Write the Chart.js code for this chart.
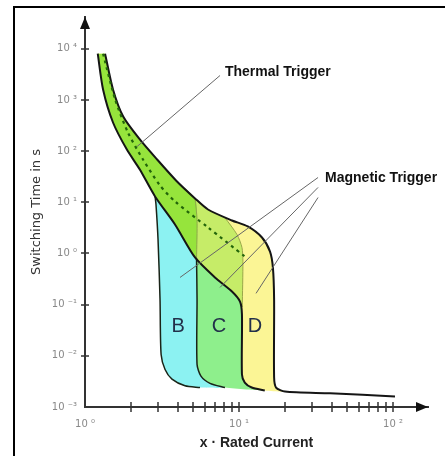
<!DOCTYPE html>
<html>
<head>
<meta charset="utf-8">
<script src="https://cdn.jsdelivr.net/npm/chart.js@4.4.0/dist/chart.umd.min.js"></script>
<style>
  html, body { margin: 0; padding: 0; background: #fff; }
  #wrap { width: 445px; height: 456px; }
</style>
</head>
<body>
<div id="wrap"><canvas id="chart"></canvas></div>
<script>
// all points are [multiple of rated current, switching time in s]

// thermal trigger band, outer (slow) edge, running on into the D region
const thermalUpper = [
  [1.35, 8000], [1.52, 1600], [1.77, 474], [2.27, 169], [2.94, 68.5], [3.9, 26.7],
  [5.18, 11.9], [6.29, 7.23], [9.0, 4.41], [11.4, 3.37], [14.1, 2.05], [15.9, 1.09],
  [16.6, 0.53], [16.9, 0.126], [16.9, 0.0038], [17.4, 0.0024], [19.9, 0.002],
];
const bottomTail = [[39, 0.00185], [103, 0.00161]];

// thermal trigger band, inner (fast) edge, dropping down at 10 x In
const thermalLower = [
  [1.21, 8000], [1.31, 1600], [1.52, 362], [1.87, 107], [2.27, 43.7], [2.85, 13.0],
  [3.84, 3.69], [5.18, 0.835], [6.98, 0.34], [9.0, 0.181], [10.15, 0.115], [10.45, 0.0645],
  [10.45, 0.0043], [10.9, 0.003], [12.1, 0.0024], [14.7, 0.0021],
];

// dashed middle of the thermal band
const thermalMid = [
  [1.31, 8000], [1.57, 1018], [1.9, 231], [2.38, 68.6], [3.07, 21.3], [3.84, 10.4],
  [6.29, 3.22], [10.9, 0.874],
];

// magnetic trigger edges
const bLeftEdge = [
  [2.85, 13.0], [2.89, 9.06], [2.98, 1.88], [3.07, 0.126], [3.12, 0.0106], [3.31, 0.0054],
  [3.67, 0.0035], [4.46, 0.0026], [5.58, 0.0024],
];
const cLeftEdge = [
  [5.3, 0.8], [5.34, 0.126], [5.34, 0.0068], [5.66, 0.004], [6.48, 0.0029], [8.11, 0.0024],
];
const cBandEdge = [[5.18, 11.9], [5.34, 4.6], [5.3, 0.8]];
const dBandEdge = [[8.1, 5.0], [9.7, 2.35], [10.45, 1.31], [10.6, 0.7], [10.5, 0.09]];

// axes
const xTicks = [1, 2, 3, 4, 5, 6, 7, 8, 9, 10, 20, 30, 40, 50, 60, 70, 80, 90, 100];
const xTickLabels = ['10 \u2070', '', '', '', '', '', '', '', '', '10 \u00b9', '', '', '', '', '', '', '', '', '10 \u00b2'];
const yTicks = [0.001, 0.01, 0.1, 1, 10, 100, 1000, 10000];
const yTickLabels = ['10 \u207b\u00b3', '10 \u207b\u00b2', '10 \u207b\u00b9', '10 \u2070', '10 \u00b9', '10 \u00b2', '10 \u00b3', '10 \u2074'];

// annotations
const thermalLabel = { text: 'Thermal Trigger', at: [8.1, 3430] };
const thermalLeader = [[7.53, 3000], [2.18, 123]];
const magneticLabel = { text: 'Magnetic Trigger', at: [36.2, 29.2] };
const magneticLeaders = [
  [[32.6, 30.5], [4.14, 0.34]],
  [[32.6, 19.5], [7.53, 0.217]],
  [[32.6, 12.4], [12.9, 0.166]],
];
const typeLetters = ['B', 'C', 'D'];
const typeLetterAt = [[4.02, 0.041], [7.41, 0.041], [12.7, 0.041]];

const pts = (arr) => arr.map(([x, y]) => ({ x, y }));
const rev = (arr) => arr.slice().reverse();

const yellowPoly = thermalUpper.concat(rev(thermalLower));
const bandLeftPoly = thermalUpper.slice(0, 7).concat(cBandEdge.slice(1), rev(thermalLower.slice(0, 8)));
const bandMidPoly = thermalUpper.slice(6, 8).concat(dBandEdge, rev(thermalLower.slice(7, 11)), [cBandEdge[1]]);
const bPoly = thermalLower.slice(5, 8).concat(cLeftEdge, rev(bLeftEdge));
const cPoly = thermalLower.slice(7).concat(rev(cLeftEdge));

const fillSet = (label, data, color, order) => ({
  label, data: pts(data), backgroundColor: color, borderWidth: 0, fill: 'shape', order,
  tension: 0.25, pointRadius: 0,
});
const lineSet = (label, data, color, width, order, dash) => ({
  label, data: pts(data), borderColor: color, borderWidth: width, fill: false, order,
  tension: 0.25, pointRadius: 0, borderDash: dash || [],
});

const line = (ctx, x1, y1, x2, y2) => {
  ctx.beginPath();
  ctx.moveTo(x1, y1);
  ctx.lineTo(x2, y2);
  ctx.stroke();
};

const decor = {
  id: 'decor',
  afterDatasetsDraw(chart) {
    const { ctx, chartArea: a, scales: { x, y } } = chart;
    const px = (p) => [x.getPixelForValue(p[0]), y.getPixelForValue(p[1])];
    ctx.save();

    // tick marks crossing the axes
    ctx.strokeStyle = '#333';
    ctx.lineWidth = 1.5;
    xTicks.slice(1).forEach((v) => {
      const xp = Math.round(x.getPixelForValue(v));
      line(ctx, xp, a.bottom - 5, xp, a.bottom + 5);
    });
    yTicks.slice(1).forEach((v) => {
      const yp = Math.round(y.getPixelForValue(v));
      line(ctx, a.left - 4, yp, a.left + 4, yp);
    });

    // arrowheads
    ctx.fillStyle = '#111';
    ctx.beginPath();
    ctx.moveTo(a.left, a.top);
    ctx.lineTo(a.left - 5, a.top + 12);
    ctx.lineTo(a.left + 5, a.top + 12);
    ctx.closePath();
    ctx.fill();
    ctx.beginPath();
    ctx.moveTo(a.right, a.bottom);
    ctx.lineTo(a.right - 12, a.bottom - 5);
    ctx.lineTo(a.right - 12, a.bottom + 5);
    ctx.closePath();
    ctx.fill();

    // leader lines
    ctx.strokeStyle = '#666';
    ctx.lineWidth = 1;
    [thermalLeader].concat(magneticLeaders).forEach(([p1, p2]) => {
      const [x1, y1] = px(p1);
      const [x2, y2] = px(p2);
      line(ctx, x1, y1, x2, y2);
    });

    // labels
    ctx.fillStyle = '#111';
    ctx.textBaseline = 'middle';
    ctx.textAlign = 'left';
    ctx.font = 'bold 14px "Liberation Sans", Arial, sans-serif';
    [thermalLabel, magneticLabel].forEach((l) => {
      const [lx, ly] = px(l.at);
      ctx.fillText(l.text, lx, ly);
    });
    ctx.fillStyle = '#22304a';
    ctx.textAlign = 'center';
    ctx.font = '20px "Liberation Sans", Arial, sans-serif';
    typeLetters.forEach((t, i) => {
      const [lx, ly] = px(typeLetterAt[i]);
      ctx.fillText(t, lx, ly + 2);
    });

    // frame
    ctx.strokeStyle = '#000';
    ctx.lineWidth = 2;
    ctx.strokeRect(14, 7, 480, 480);
    ctx.restore();
  },
};

new Chart(document.getElementById('chart'), {
  type: 'line',
  data: {
    datasets: [
      lineSet('dashed', thermalMid, '#23650a', 2.2, 1, [3, 4]),
      lineSet('upper', thermalUpper.concat(bottomTail), '#151515', 2, 2),
      lineSet('lower', thermalLower, '#151515', 2, 2),
      lineSet('bLeft', bLeftEdge, '#1a2418', 1.5, 3),
      lineSet('cLeft', cLeftEdge, '#1a2418', 1.5, 3),
      lineSet('cBand', cBandEdge, '#8ea84a', 1, 4),
      lineSet('dBand', dBandEdge, '#9aa84a', 1, 4),
      fillSet('bandLeft', bandLeftPoly, '#96e43c', 10),
      fillSet('bandMid', bandMidPoly, '#c6ec68', 10),
      fillSet('B', bPoly, '#8cf2f2', 11),
      fillSet('C', cPoly, '#8eef8c', 11),
      fillSet('D', yellowPoly, '#fbf595', 12),
    ],
  },
  plugins: [decor],
  options: {
    responsive: true,
    maintainAspectRatio: false,
    animation: false,
    events: [],
    layout: { padding: { left: 25, right: 17, top: 17, bottom: 0 } },
    plugins: {
      legend: { display: false },
      tooltip: { enabled: false },
    },
    scales: {
      x: {
        type: 'logarithmic',
        min: 1,
        max: 168.7,
        afterBuildTicks: (s) => { s.ticks = xTicks.map((v) => ({ value: v })); },
        afterFit: (s) => { s.height = 49; },
        grid: { display: false, drawTicks: false },
        border: { display: true, color: '#333', width: 2 },
        ticks: {
          autoSkip: false,
          maxRotation: 0,
          padding: 11,
          color: '#888',
          font: { family: 'DejaVu Sans', size: 10 },
          callback: (v, i) => xTickLabels[i],
        },
        title: {
          display: true,
          text: 'x \u00b7 Rated Current',
          color: '#222',
          font: { family: 'Liberation Sans', size: 14, weight: 'bold' },
        },
      },
      y: {
        type: 'logarithmic',
        min: 0.001,
        max: 41700,
        afterBuildTicks: (s) => { s.ticks = yTicks.map((v) => ({ value: v })); },
        afterFit: (s) => { s.width = 60; },
        grid: { display: false, drawTicks: false },
        border: { display: true, color: '#333', width: 2 },
        ticks: {
          autoSkip: false,
          padding: 8,
          color: '#888',
          font: { family: 'DejaVu Sans', size: 10 },
          callback: (v, i) => yTickLabels[i],
        },
        title: {
          display: true,
          text: 'Switching Time in s',
          color: '#333',
          font: { family: 'DejaVu Sans', size: 13 },
        },
      },
    },
  },
});
</script>
</body>
</html>
